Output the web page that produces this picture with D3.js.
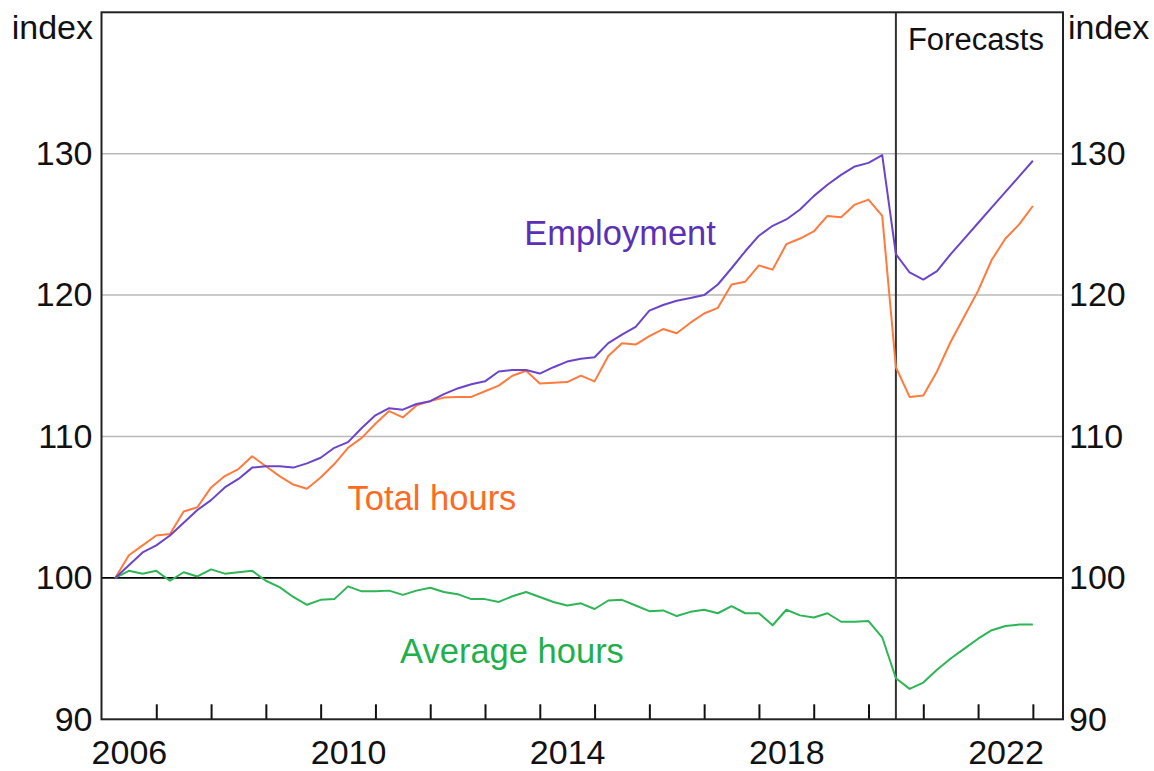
<!DOCTYPE html>
<html>
<head>
<meta charset="utf-8">
<script src="https://cdn.jsdelivr.net/npm/d3@7"></script>
<style>
  body { margin: 0; background: #fff; }
  text { font-family: "Liberation Sans", Arial, sans-serif; }
</style>
</head>
<body>
<div id="chart"></div>
<script>
// quarterly, Mar 2006 to Dec 2022, index Mar 2006 = 100
const firstQuarter = 2006.25;
const employment = [
  100.0, 100.9, 101.8, 102.3, 103.0, 103.9, 104.8, 105.5, 106.4, 107.0,
  107.8, 107.9, 107.9, 107.8, 108.1, 108.5, 109.2, 109.6, 110.6, 111.5,
  112.0, 111.9, 112.3, 112.5, 113.0, 113.4, 113.7, 113.9, 114.6, 114.7,
  114.7, 114.45, 114.9, 115.3, 115.5, 115.6, 116.6, 117.2, 117.75, 118.9,
  119.3, 119.6, 119.8, 120.0, 120.75, 121.9, 123.1, 124.2, 124.9, 125.35,
  126.05, 127.0, 127.8, 128.5, 129.1, 129.35, 129.9, 122.9, 121.6, 121.1,
  121.7, 122.9, 124.0, 125.1, 126.2, 127.3, 128.4, 129.5
];
const totalHours = [
  100.0, 101.6, 102.3, 103.0, 103.1, 104.7, 105.0, 106.4, 107.2, 107.7,
  108.6, 107.9, 107.2, 106.6, 106.3, 107.1, 108.05, 109.2, 109.9, 110.9,
  111.8, 111.35, 112.2, 112.5, 112.75, 112.8, 112.8, 113.2, 113.6, 114.3,
  114.65, 113.75, 113.8, 113.85, 114.3, 113.9, 115.7, 116.6, 116.5, 117.1,
  117.6, 117.3, 118.05, 118.7, 119.1, 120.75, 120.95, 122.1, 121.8, 123.6,
  124.0, 124.5, 125.6, 125.5, 126.4, 126.75, 125.6, 114.9, 112.8, 112.9,
  114.6, 116.7, 118.5, 120.3, 122.5, 124.0, 125.0, 126.3
];
const averageHours = [
  100.0, 100.5, 100.3, 100.5, 99.8, 100.4, 100.1, 100.6, 100.3, 100.4,
  100.5, 99.8, 99.35, 98.65, 98.1, 98.45, 98.5, 99.4, 99.05, 99.05,
  99.1, 98.8, 99.1, 99.3, 99.0, 98.85, 98.5, 98.5, 98.3, 98.7,
  99.0, 98.65, 98.3, 98.05, 98.2, 97.8, 98.4, 98.45, 98.05, 97.65,
  97.7, 97.3, 97.6, 97.75, 97.5, 98.0, 97.5, 97.5, 96.65, 97.75,
  97.35, 97.2, 97.5, 96.9, 96.9, 96.95, 95.8, 92.9, 92.15, 92.6,
  93.5, 94.3, 95.0, 95.7, 96.3, 96.6, 96.7, 96.7
];
const yTicks = [90, 100, 110, 120, 130];
const yearLabels = [2006, 2010, 2014, 2018, 2022];
const yearTicks = d3.range(2007, 2024);
const forecastStart = 2020.5;

const quarters = employment.map((d, i) => firstQuarter + i * 0.25);

const W = 1154, H = 771;
const margin = {top: 12.3, right: 91, bottom: 51.7, left: 101.5};
const width = W - margin.left - margin.right;
const height = H - margin.top - margin.bottom;

const svg = d3.select("#chart").append("svg")
  .attr("width", W).attr("height", H);

const g = svg.append("g")
  .attr("transform", `translate(${margin.left},${margin.top})`);

const x = d3.scaleLinear().domain([2006, 2023.55]).range([0, width]);
const y = d3.scaleLinear().domain([90, 140]).range([height, 0]);

// gridlines
g.selectAll(".grid")
  .data(yTicks.filter(v => v > 100))
  .enter().append("line")
  .attr("x1", 0).attr("x2", width)
  .attr("y1", d => y(d)).attr("y2", d => y(d))
  .attr("stroke", "#b8b8b8").attr("stroke-width", 1.5);

g.append("line")
  .attr("x1", 0).attr("x2", width)
  .attr("y1", y(100)).attr("y2", y(100))
  .attr("stroke", "#000").attr("stroke-width", 1.8);

// forecast divider
g.append("line")
  .attr("x1", x(forecastStart)).attr("x2", x(forecastStart))
  .attr("y1", 0).attr("y2", height)
  .attr("stroke", "#333").attr("stroke-width", 2);

g.append("text")
  .attr("x", x(forecastStart) + 12).attr("y", 38)
  .attr("font-size", 31).attr("fill", "#111")
  .text("Forecasts");

// series
const line = d3.line()
  .x((d, i) => x(quarters[i]))
  .y(d => y(d));

const series = [
  {values: averageHours, color: "#2db556"},
  {values: totalHours, color: "#ff7a3d"},
  {values: employment, color: "#6c44c9"}
];

series.forEach(s => {
  g.append("path")
    .datum(s.values)
    .attr("d", line)
    .attr("fill", "none")
    .attr("stroke", s.color)
    .attr("stroke-width", 2)
    .attr("stroke-linejoin", "round");
});

// series labels
g.append("text").attr("x", 620 - margin.left).attr("y", 245 - margin.top)
  .attr("text-anchor", "middle").attr("font-size", 34.5)
  .attr("fill", "#5b30b8").text("Employment");
g.append("text").attr("x", 432 - margin.left).attr("y", 510 - margin.top)
  .attr("text-anchor", "middle").attr("font-size", 34.5)
  .attr("fill", "#ff6a22").text("Total hours");
g.append("text").attr("x", 512 - margin.left).attr("y", 663 - margin.top)
  .attr("text-anchor", "middle").attr("font-size", 34.5)
  .attr("fill", "#1fb04c").text("Average hours");

// x axis ticks (year boundaries) and labels (centred in year)
g.append("g")
  .attr("transform", `translate(0,${height})`)
  .call(d3.axisBottom(x).tickValues(yearTicks).tickSize(-15).tickFormat(""))
  .call(a => a.select(".domain").remove())
  .selectAll("line").attr("stroke", "#111").attr("stroke-width", 2);

g.append("g")
  .attr("transform", `translate(0,${height})`)
  .call(d3.axisBottom(x).tickValues(yearLabels.map(d => d + 0.5))
    .tickSize(0).tickPadding(21).tickFormat(d => Math.floor(d)))
  .call(a => a.select(".domain").remove())
  .selectAll("text")
  .attr("font-size", 34).attr("fill", "#111")
  .style("font-family", '"Liberation Sans", Arial, sans-serif');

// y axes
g.append("g")
  .call(d3.axisLeft(y).tickValues(yTicks).tickSize(0).tickPadding(9))
  .call(a => a.select(".domain").remove())
  .selectAll("text")
  .attr("font-size", 34).attr("fill", "#111")
  .style("font-family", '"Liberation Sans", Arial, sans-serif');

g.append("g")
  .attr("transform", `translate(${width},0)`)
  .call(d3.axisRight(y).tickValues(yTicks).tickSize(0).tickPadding(6))
  .call(a => a.select(".domain").remove())
  .selectAll("text")
  .attr("font-size", 34).attr("fill", "#111")
  .style("font-family", '"Liberation Sans", Arial, sans-serif');

svg.append("text").attr("x", 93).attr("y", 39)
  .attr("text-anchor", "end").attr("font-size", 34).attr("fill", "#111")
  .text("index");
svg.append("text").attr("x", margin.left + width + 5).attr("y", 39)
  .attr("font-size", 34).attr("fill", "#111")
  .text("index");

// frame
g.append("rect")
  .attr("width", width).attr("height", height)
  .attr("fill", "none").attr("stroke", "#222").attr("stroke-width", 2);
</script>
</body>
</html>
